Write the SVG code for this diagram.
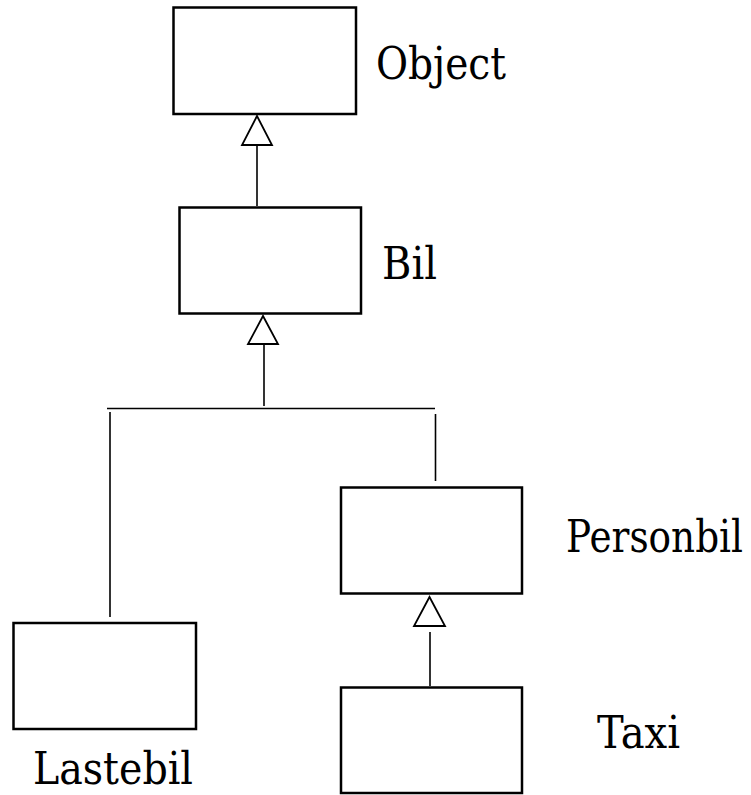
<svg xmlns="http://www.w3.org/2000/svg" width="751" height="795" viewBox="0 0 751 795">
<style>
.box{fill:#fff;stroke:#000;stroke-width:2.5}
.ln{fill:none;stroke:#000;stroke-width:1.6}
.tri{fill:#fff;stroke:#000;stroke-width:1.8;stroke-linejoin:miter}
.lbl{font-family:'DejaVu Serif','Liberation Serif',serif;font-size:44px;fill:#000}
</style>
<rect width="751" height="795" fill="#fff"/>
<g id="connectors">
<line class="ln" x1="257" y1="145" x2="257" y2="206"/>
<polygon class="tri" points="257,116 242,145 272,145"/>
<line class="ln" x1="264" y1="344" x2="264" y2="406"/>
<polygon class="tri" points="263,316 248,344 278,344"/>
<line class="ln" x1="107" y1="408.5" x2="435" y2="408.5"/>
<line class="ln" x1="110" y1="412" x2="110" y2="617"/>
<line class="ln" x1="435.5" y1="414" x2="435.5" y2="481"/>
<line class="ln" x1="430" y1="632" x2="430" y2="686"/>
<polygon class="tri" points="429.5,597 414,626 445,626"/>
</g>
<g id="node-object">
<rect class="box" x="173.5" y="7.5" width="182.5" height="106.5"/>
<text class="lbl" transform="translate(376,79) scale(0.9,1)" x="0" y="0" textLength="144.4" lengthAdjust="spacingAndGlyphs">Object</text>
</g>
<g id="node-bil">
<rect class="box" x="179.5" y="207.5" width="181.5" height="106"/>
<text class="lbl" transform="translate(382,279) scale(0.92,1)" x="0" y="0" textLength="59.8" lengthAdjust="spacingAndGlyphs">Bil</text>
</g>
<g id="node-personbil">
<rect class="box" x="341" y="487.5" width="181" height="106"/>
<text class="lbl" transform="translate(566,552) scale(0.85,1)" x="0" y="0" textLength="208.2" lengthAdjust="spacingAndGlyphs">Personbil</text>
</g>
<g id="node-lastebil">
<rect class="box" x="13.5" y="623" width="182.5" height="106"/>
<text class="lbl" transform="translate(33,784) scale(0.9,1)" x="0" y="0" textLength="177.8" lengthAdjust="spacingAndGlyphs">Lastebil</text>
</g>
<g id="node-taxi">
<rect class="box" x="341" y="687.5" width="181" height="105.5"/>
<text class="lbl" transform="translate(597,748) scale(0.88,1)" x="0" y="0" textLength="94.3" lengthAdjust="spacingAndGlyphs">Taxi</text>
</g>
</svg>
